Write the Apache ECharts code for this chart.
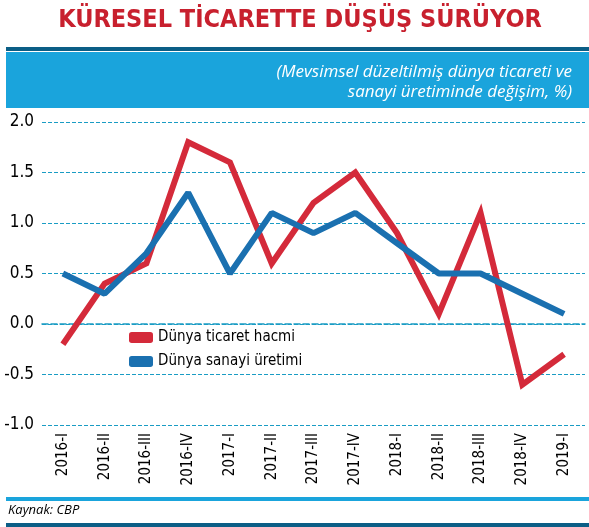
<!DOCTYPE html>
<html><head><meta charset="utf-8">
<script src="https://cdn.jsdelivr.net/npm/echarts@6/dist/echarts.min.js"></script>
<style>html,body{margin:0;padding:0;background:#fff}#c{width:589px;height:527px}</style>
</head><body><div id="c"></div>
<script>
const categories = ['2016-I','2016-II','2016-III','2016-IV','2017-I','2017-II','2017-III','2017-IV','2018-I','2018-II','2018-III','2018-IV','2019-I'];
const ticaret = [-0.2,0.4,0.6,1.8,1.6,0.6,1.2,1.5,0.9,0.1,1.1,-0.6,-0.3];
const sanayi = [0.5,0.3,0.7,1.3,0.5,1.1,0.9,1.1,0.8,0.5,0.5,0.3,0.1];
const narrow = '"Liberation Sans Narrow","DejaVu Sans Condensed",sans-serif';
const teal = '#1a9cc4';
const chart = echarts.init(document.getElementById('c'));
chart.setOption({
  animation:false,
  graphic:[
    {type:'text',x:300,y:8,style:{text:'KÜRESEL TİCARETTE DÜŞÜŞ SÜRÜYOR',fill:'#c8202e',font:'bold 25px '+narrow,align:'center'}},
    {type:'rect',shape:{x:6,y:47,width:583,height:4},style:{fill:'#0b5e86'}},
    {type:'rect',shape:{x:6,y:52,width:583,height:56},style:{fill:'#1aa4dc'}},
    {type:'text',x:572,y:62,style:{text:'(Mevsimsel düzeltilmiş dünya ticareti ve\nsanayi üretiminde değişim, %)',fill:'#fff',font:'italic 17px "Open Sans",sans-serif',align:'right',lineHeight:20}},
    {type:'rect',shape:{x:6,y:497,width:583,height:4},style:{fill:'#1aa4dc'}},
    {type:'text',x:8,y:504,style:{text:'Kaynak: CBP',fill:'#000',font:'italic 13px "Open Sans",sans-serif'}},
    {type:'rect',shape:{x:6,y:523,width:583,height:4},style:{fill:'#0b5e86'}}
  ],
  legend:{orient:'vertical',left:124,top:325,itemWidth:24,itemHeight:11,itemGap:9,
    textStyle:{fontFamily:narrow,fontSize:15,color:'#000'},
    data:[{name:'Dünya ticaret hacmi',icon:'roundRect'},{name:'Dünya sanayi üretimi',icon:'roundRect'}]},
  grid:{left:42,right:4,top:122,bottom:102},
  xAxis:{type:'category',data:categories,boundaryGap:true,
    axisLine:{lineStyle:{color:teal,type:'dashed',width:1.5}},
    axisTick:{inside:true,length:5,lineStyle:{color:teal,width:1.5}},
    axisLabel:{rotate:90,fontFamily:narrow,fontSize:15,color:'#000',margin:8}},
  yAxis:{type:'value',min:-1,max:2,interval:0.5,
    axisLine:{show:false},axisTick:{show:false},
    splitLine:{lineStyle:{color:teal,type:'dashed',width:1}},
    axisLabel:{formatter:v=>v.toFixed(1),fontFamily:narrow,fontSize:17,color:'#000',margin:8}},
  series:[
    {name:'Dünya ticaret hacmi',type:'line',data:ticaret,symbol:'none',color:'#d42a3a',lineStyle:{width:6,join:'miter'}},
    {name:'Dünya sanayi üretimi',type:'line',data:sanayi,symbol:'none',color:'#1a70b0',lineStyle:{width:6}}
  ]
});
</script></body></html>
